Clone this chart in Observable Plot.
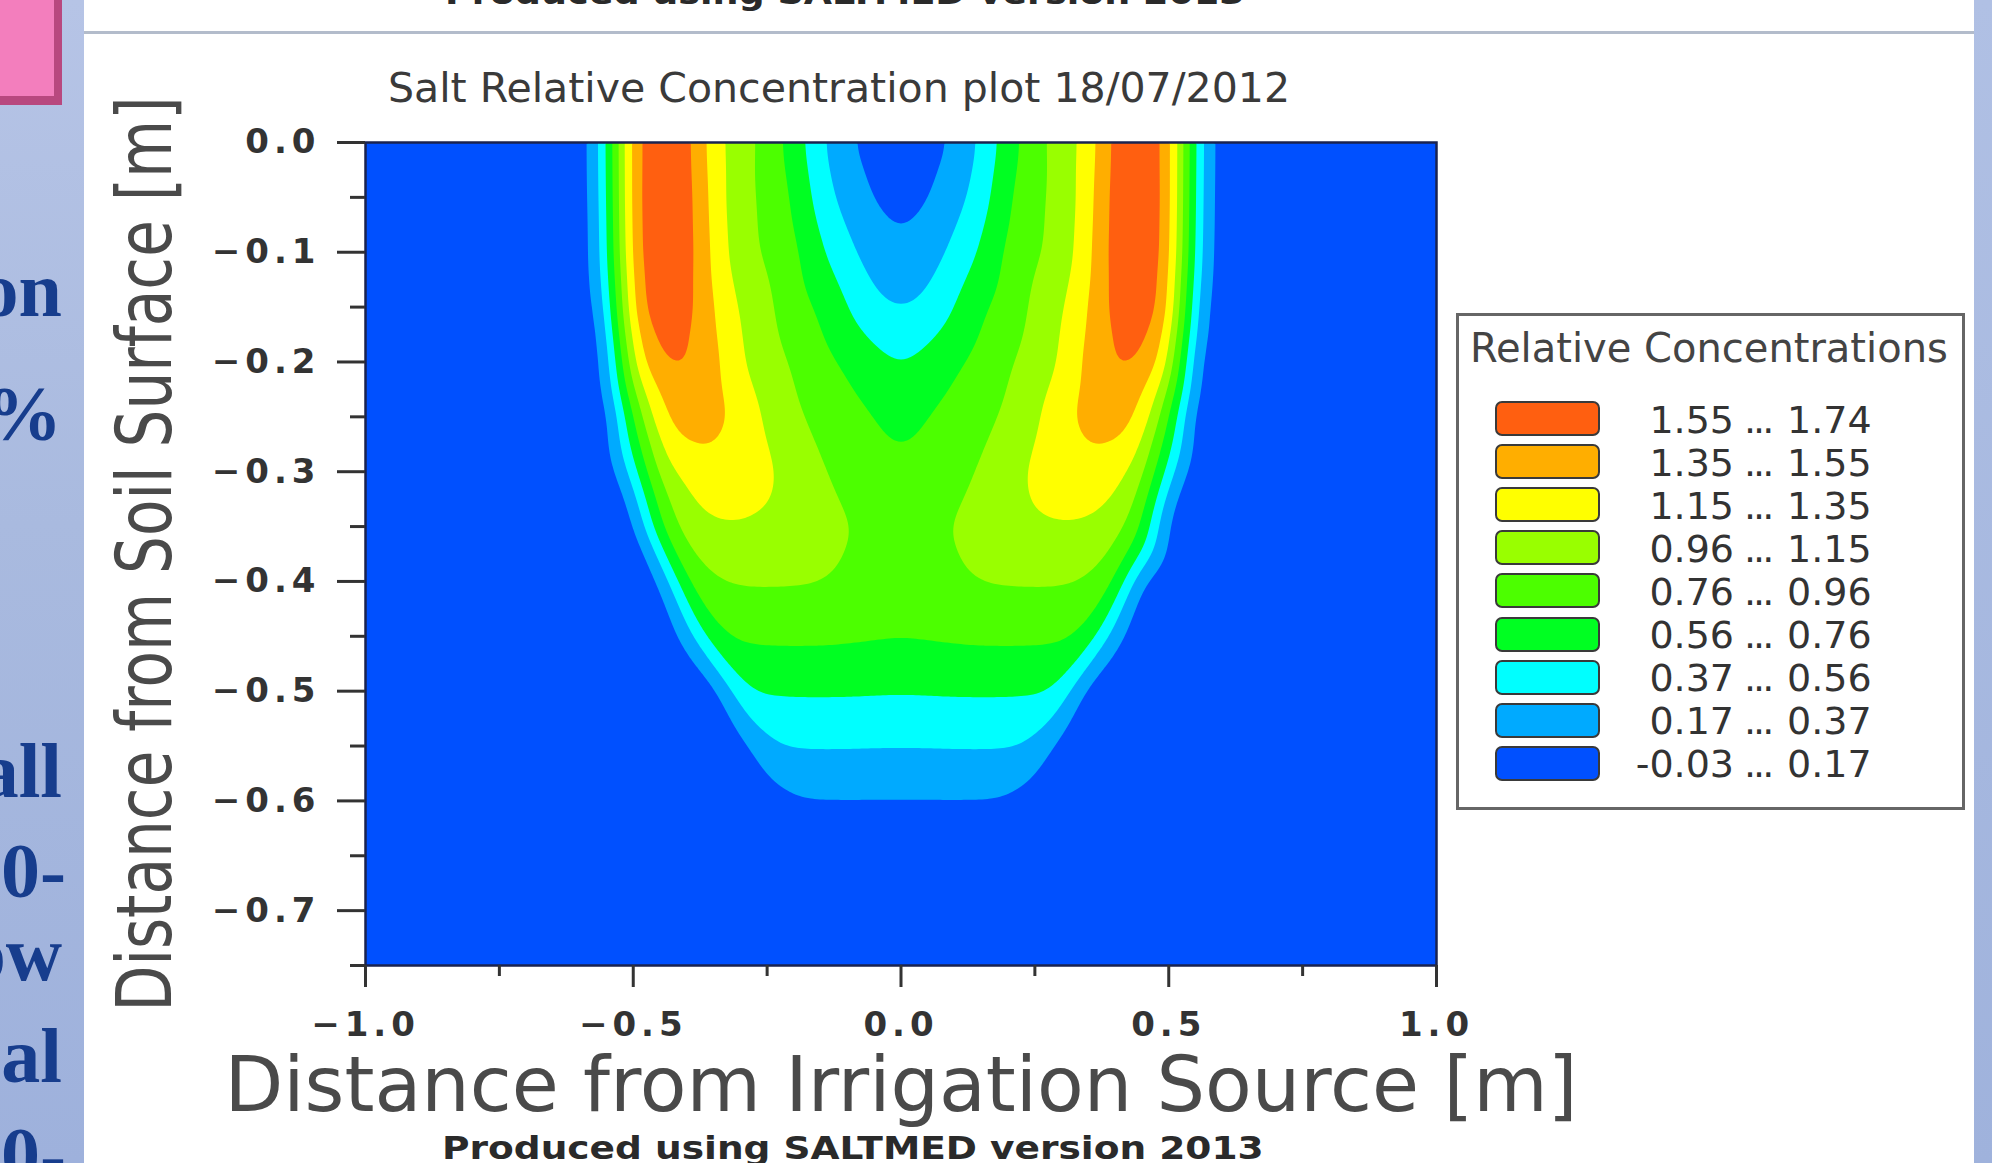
<!DOCTYPE html>
<html>
<head>
<meta charset="utf-8">
<script src="https://cdn.jsdelivr.net/npm/d3@7"></script>
<script src="https://cdn.jsdelivr.net/npm/@observablehq/plot@0.6"></script>
<style>
  html, body { margin: 0; padding: 0; }
  body { width: 1992px; height: 1163px; position: relative; overflow: hidden; background: #ffffff; font-family: "DejaVu Sans", sans-serif; }
  #leftStrip { position: absolute; left: 0; top: 0; width: 84px; height: 1163px; background: linear-gradient(to bottom, #b6c4e6 0%, #a9badf 45%, #9eb1dc 100%); }
  #rightStrip { position: absolute; left: 1974px; top: 0; width: 18px; height: 1163px; background: linear-gradient(to bottom, #b0c0e4, #9fb2dc); }
  #pinkBox { position: absolute; left: 0; top: 0; width: 54px; height: 96px; background: #f37ebd; border-right: 8px solid #b8487f; border-bottom: 9px solid #b8487f; }
  .frag { position: absolute; right: 1930px; white-space: nowrap; font-family: "Liberation Serif", serif; font-weight: bold; font-size: 78px; line-height: 1; color: #173d8d; }
  #topRule { position: absolute; left: 84px; top: 31px; width: 1890px; height: 3px; background: #b3bccb; }
  .credit { position: absolute; white-space: nowrap; font-family: "DejaVu Sans", sans-serif; font-weight: bold; font-size: 32px; line-height: 1; color: #2a2a2a; transform-origin: 0 0; }
  #chart { position: absolute; left: 90px; top: 40px; }
  #legendBox { position: absolute; left: 1456px; top: 313px; width: 509px; height: 497px; box-sizing: border-box; border: 3px solid #666; background: #fff; }
  .legTitle { position: absolute; white-space: nowrap; font-family: "DejaVu Sans", sans-serif; font-size: 40px; line-height: 1; color: #444; }
  .swatch { position: absolute; width: 105px; height: 35px; box-sizing: border-box; border: 2.5px solid #3a3a3a; border-radius: 7px; }
  .legLab { position: absolute; white-space: nowrap; font-family: "DejaVu Sans", sans-serif; font-size: 38px; line-height: 1; color: #333; }
</style>
</head>
<body>
<div id="leftStrip"></div>
<div id="pinkBox"></div>
<div id="rightStrip"></div>
<div id="topRule"></div>
<div id="chart"></div>
<script>
// ---------------- data ----------------
const chartTitle = "Salt Relative Concentration plot 18/07/2012";
const xAxisTitle = "Distance from Irrigation Source [m]";
const yAxisTitle = "Distance from Soil Surface [m]";
const creditText = "Produced using SALTMED version 2013";
const legendTitle = "Relative Concentrations";

// concentration band limits (legend) and colours, low -> high
const bandBreaks = [-0.03, 0.17, 0.37, 0.56, 0.76, 0.96, 1.15, 1.35, 1.55, 1.74];
const bandColors = ["#0050ff", "#00aaff", "#00ffff", "#00ff22", "#4cff00", "#99ff00", "#ffff00", "#ffae00", "#ff5f10"];

// axis ticks
const xMajorTicks = [-1, -0.5, 0, 0.5, 1];
const xTickLabels = ["\u22121.0", "\u22120.5", "0.0", "0.5", "1.0"];
const xMinorTicks = [-0.75, -0.25, 0.25, 0.75];
const yMajorTicks = [0, -0.1, -0.2, -0.3, -0.4, -0.5, -0.6, -0.7];
const yTickLabels = ["0.0", "\u22120.1", "\u22120.2", "\u22120.3", "\u22120.4", "\u22120.5", "\u22120.6", "\u22120.7"];
const yMinorTicks = [-0.05, -0.15, -0.25, -0.35, -0.45, -0.55, -0.65, -0.75];

// sampling grid: distance from source (columns) and depth (rows)
const gridX = [-1.00, -0.95, -0.90, -0.85, -0.80, -0.75, -0.70, -0.65, -0.60, -0.55, -0.50, -0.45, -0.40, -0.35, -0.30, -0.25, -0.20, -0.15, -0.10, -0.05,
  0.00, 0.05, 0.10, 0.15, 0.20, 0.25, 0.30, 0.35, 0.40, 0.45, 0.50, 0.55, 0.60, 0.65, 0.70, 0.75, 0.80, 0.85, 0.90, 0.95, 1.00];
const gridDepths = [0, -0.05, -0.10, -0.15, -0.20, -0.25, -0.30, -0.35, -0.40, -0.45, -0.50, -0.55, -0.60, -0.65, -0.70, -0.75];
const concentrationRows = [
  [0,0,0,0,0,0,0,0, 0.00,0.45,1.58,1.72,1.68,1.19,1.05,0.90,0.66,0.40,0.19,0.08, 0.01, 0.08,0.19,0.40,0.66,0.90,1.05,1.19,1.68,1.72,1.58,0.45,0.00, 0,0,0,0,0,0,0,0],
  [0,0,0,0,0,0,0,0, 0.00,0.43,1.58,1.74,1.69,1.24,1.01,0.93,0.74,0.46,0.29,0.15, 0.09, 0.15,0.29,0.46,0.74,0.93,1.01,1.24,1.69,1.74,1.58,0.43,0.00, 0,0,0,0,0,0,0,0],
  [0,0,0,0,0,0,0,0, 0.00,0.40,1.56,1.74,1.69,1.28,1.02,0.94,0.82,0.58,0.42,0.27, 0.20, 0.27,0.42,0.58,0.82,0.94,1.02,1.28,1.69,1.74,1.56,0.40,0.00, 0,0,0,0,0,0,0,0],
  [0,0,0,0,0,0,0,0, 0.00,0.28,1.48,1.73,1.65,1.35,1.11,1.01,0.84,0.74,0.56,0.41, 0.35, 0.41,0.56,0.74,0.84,1.01,1.11,1.35,1.65,1.73,1.48,0.28,0.00, 0,0,0,0,0,0,0,0],
  [0,0,0,0,0,0,0,0, 0.00,0.12,1.24,1.58,1.58,1.43,1.15,1.04,0.94,0.82,0.73,0.62, 0.54, 0.62,0.73,0.82,0.94,1.04,1.15,1.43,1.58,1.58,1.24,0.12,0.00, 0,0,0,0,0,0,0,0],
  [0,0,0,0,0,0,0,0, 0.00,0.00,0.80,1.33,1.49,1.46,1.27,1.12,0.99,0.91,0.84,0.76, 0.69, 0.76,0.84,0.91,0.99,1.12,1.27,1.46,1.49,1.33,0.80,0.00,0.00, 0,0,0,0,0,0,0,0],
  [0,0,0,0,0,0,0,0, 0.00,0.00,0.45,1.08,1.22,1.30,1.28,1.20,1.06,0.98,0.90,0.84, 0.80, 0.84,0.90,0.98,1.06,1.20,1.28,1.30,1.22,1.08,0.45,0.00,0.00, 0,0,0,0,0,0,0,0],
  [0,0,0,0,0,0,0,0, 0.00,0.00,0.05,0.80,1.06,1.13,1.14,1.12,1.08,1.03,0.97,0.92, 0.88, 0.92,0.97,1.03,1.08,1.12,1.14,1.13,1.06,0.80,0.05,0.00,0.00, 0,0,0,0,0,0,0,0],
  [0,0,0,0,0,0,0,0, 0.00,0.00,0.00,0.10,0.82,0.95,0.98,0.98,0.98,0.97,0.93,0.89, 0.86, 0.89,0.93,0.97,0.98,0.98,0.98,0.95,0.82,0.10,0.00,0.00,0.00, 0,0,0,0,0,0,0,0],
  [0,0,0,0,0,0,0,0, 0.00,0.00,0.00,0.00,0.22,0.74,0.79,0.80,0.80,0.80,0.79,0.78, 0.77, 0.78,0.79,0.80,0.80,0.80,0.79,0.74,0.22,0.00,0.00,0.00,0.00, 0,0,0,0,0,0,0,0],
  [0,0,0,0,0,0,0,0, 0.00,0.00,0.00,0.00,0.00,0.03,0.56,0.575,0.58,0.58,0.58,0.575, 0.57, 0.575,0.58,0.58,0.58,0.575,0.56,0.03,0.00,0.00,0.00,0.00,0.00, 0,0,0,0,0,0,0,0],
  [0,0,0,0,0,0,0,0, 0.00,0.00,0.00,0.00,0.00,0.00,0.06,0.35,0.385,0.385,0.385,0.38, 0.38, 0.38,0.385,0.385,0.385,0.35,0.06,0.00,0.00,0.00,0.00,0.00,0.00, 0,0,0,0,0,0,0,0],
  [0,0,0,0,0,0,0,0, 0.00,0.00,0.00,0.00,0.00,0.00,0.00,0.05,0.15,0.16,0.16,0.16, 0.16, 0.16,0.16,0.16,0.15,0.05,0.00,0.00,0.00,0.00,0.00,0.00,0.00, 0,0,0,0,0,0,0,0],
  [0,0,0,0,0,0,0,0, 0,0,0,0,0,0,0,0,0,0,0,0, 0, 0,0,0,0,0,0,0,0,0,0,0,0, 0,0,0,0,0,0,0,0],
  [0,0,0,0,0,0,0,0, 0,0,0,0,0,0,0,0,0,0,0,0, 0, 0,0,0,0,0,0,0,0,0,0,0,0, 0,0,0,0,0,0,0,0],
  [0,0,0,0,0,0,0,0, 0,0,0,0,0,0,0,0,0,0,0,0, 0, 0,0,0,0,0,0,0,0,0,0,0,0, 0,0,0,0,0,0,0,0]
];

// slide text fragments at the left edge (cropped slide text)
const slideFragments = ["on", "%", "all", "0-", "ow", "al", "0-"];

// ---------------- chart ----------------
const samples = [];
concentrationRows.forEach((row, j) => row.forEach((v, i) => samples.push({x: gridX[i], y: gridDepths[j], c: v})));
const fmt2 = d3.format(".2f");

const chart = Plot.plot({
  width: 1380,
  height: 1100,
  marginLeft: 275,
  marginRight: 34,
  marginTop: 102,
  marginBottom: 175,
  x: {domain: [-1, 1], axis: null},
  y: {domain: [-0.75, 0], axis: null},
  color: {type: "threshold", domain: bandBreaks.slice(1, 9), range: bandColors},
  style: {fontFamily: "DejaVu Sans", background: "transparent", overflow: "visible", color: "#333"},
  marks: [
    Plot.contour(samples, {
      x: "x", y: "y", fill: "c",
      interpolate: "barycentric", pixelSize: 3, blur: 4,
      thresholds: bandBreaks.slice(0, 9),
      clip: true
    }),
    Plot.frame({stroke: "#1a2350", strokeWidth: 2.5}),
    Plot.axisX(xMinorTicks, {anchor: "bottom", tickSize: 11, fill: "none", stroke: "#333", strokeWidth: 3, label: null}),
    Plot.axisX(xMajorTicks, {anchor: "bottom", tickSize: 22, tickPadding: 24, strokeWidth: 3, color: "#333",
      tickFormat: d => xTickLabels[xMajorTicks.indexOf(d)], fontSize: 34, fontWeight: "bold", label: null}),
    Plot.axisY(yMinorTicks, {anchor: "left", tickSize: 15, fill: "none", stroke: "#333", strokeWidth: 3, label: null}),
    Plot.axisY(yMajorTicks, {anchor: "left", tickSize: 28, tickPadding: 17, strokeWidth: 3, color: "#333",
      tickFormat: d => yTickLabels[yMajorTicks.indexOf(d)], fontSize: 34, fontWeight: "bold", label: null}),
    Plot.text([chartTitle], {frameAnchor: "top", dx: -62, dy: -53, fontSize: 40, fill: "#3a3a3a", lineAnchor: "middle"}),
    Plot.text([yAxisTitle], {frameAnchor: "left", textAnchor: "middle", dx: -219, rotate: -90, fontSize: 76, fill: "#4a4a4a", lineAnchor: "middle"}),
    Plot.text([xAxisTitle], {frameAnchor: "bottom", dy: 121, fontSize: 76, fill: "#4a4a4a", lineAnchor: "middle"})
  ]
});
document.getElementById("chart").appendChild(chart);

const svg = d3.select(chart);
svg.selectAll('g[aria-label="x-axis tick label"] text, g[aria-label="y-axis tick label"] text').style("letter-spacing", "5px");
svg.selectAll("text").each(function() {
  const t = this.textContent;
  if (t === yAxisTitle) d3.select(this).attr("textLength", 915).attr("lengthAdjust", "spacingAndGlyphs");
  if (t === xAxisTitle) d3.select(this).attr("textLength", 1353).attr("lengthAdjust", "spacingAndGlyphs");
  if (t === chartTitle) d3.select(this).attr("textLength", 902).attr("lengthAdjust", "spacingAndGlyphs");
});

// ---------------- slide fragments ----------------
const fragTops = [251, 375, 732, 832, 915, 1017, 1116];
const body = d3.select("body");
slideFragments.forEach((t, i) => {
  body.append("div").attr("class", "frag").style("top", fragTops[i] + "px")
    .style("right", (t === "0-" ? 1926 : 1930) + "px").text(t);
});

// credits (top one cut off by the window)
function credit(centerX, top, width) {
  const el = body.append("div").attr("class", "credit").style("top", top + "px").text(creditText).node();
  const w = el.offsetWidth;
  el.style.left = (centerX - width / 2) + "px";
  el.style.transform = `scaleX(${width / w})`;
}
credit(845, -23, 800);
credit(853, 1132, 822);

// ---------------- legend ----------------
body.append("div").attr("id", "legendBox");
body.append("div").attr("class", "legTitle").style("left", "1470px").style("top", "328px").text(legendTitle);
const nBands = bandColors.length;
for (let k = 0; k < nBands; k++) {
  const band = nBands - 1 - k; // top row = highest band
  const top = 401 + k * 43.1;
  body.append("div").attr("class", "swatch")
    .style("left", "1495px").style("top", top + "px").style("background", bandColors[band]);
  const labTop = top + 17.5 + 14 - 32;
  body.append("div").attr("class", "legLab").style("right", (1992 - 1734) + "px").style("top", labTop + "px")
    .text(fmt2(bandBreaks[band]).replace("\u2212", "-"));
  body.append("div").attr("class", "legLab").style("left", "1744px").style("top", labTop + "px")
    .style("letter-spacing", "-3px").text("...");
  body.append("div").attr("class", "legLab").style("left", "1787px").style("top", labTop + "px")
    .text(fmt2(bandBreaks[band + 1]));
}
</script>
</body>
</html>
